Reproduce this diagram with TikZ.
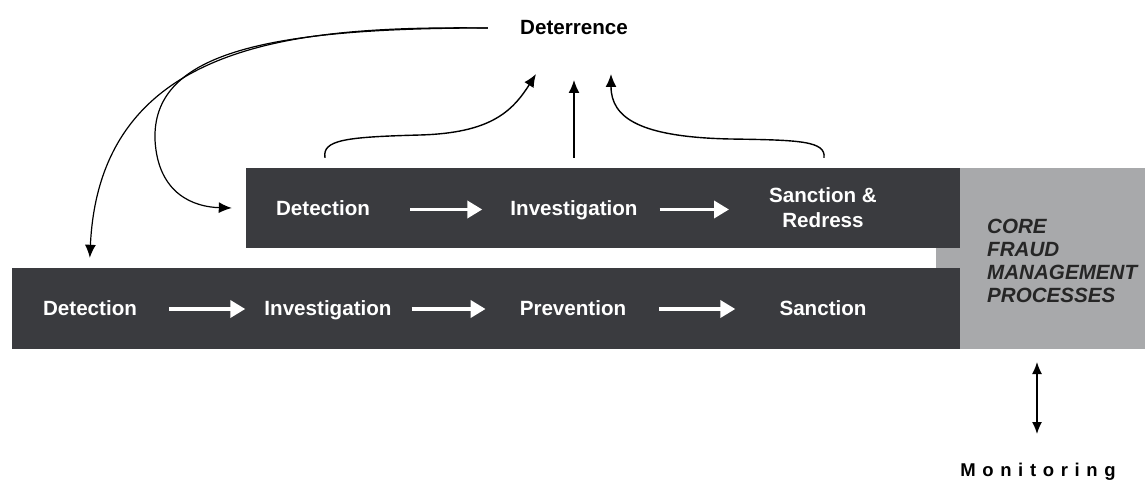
\documentclass[tikz,border=0pt]{standalone}
\usepackage{fontspec}
\setmainfont{Liberation Sans}
\newfontfamily\monfont[LetterSpace=36]{Liberation Sans}
\usetikzlibrary{arrows.meta}
\definecolor{boxdark}{HTML}{3A3B3F}
\definecolor{coregray}{HTML}{A8A9AB}
\begin{document}
\begin{tikzpicture}[x=1pt,y=-1pt,
  lbl/.style={font=\fontsize{20.6}{25}\selectfont\bfseries, text=white, inner sep=0pt, align=center},
  wa/.style={white, line width=3.6pt, -{Triangle[length=15pt,width=17pt]}},
  ka/.style={black, line width=1.4pt, -{Latex[length=13pt,width=11pt]}},
  darkbox/.style={fill=boxdark, draw=none, inner sep=0pt},
  graybox/.style={fill=coregray, draw=none, inner sep=0pt}]
\useasboundingbox[fill=white] (0,0) rectangle (1145,481);

% core gray area
\node[graybox, minimum width=185pt, minimum height=181pt] (core) at (1052.5,258.5) {};
\fill[coregray] (936,248) rectangle (961,269);

% boxes
\node[darkbox, minimum width=714pt, minimum height=80pt] (upper) at (603,208) {};
\node[darkbox, minimum width=948pt, minimum height=81pt] (lower) at (486,308.5) {};

% upper labels
\node[lbl, anchor=base] (u1) at (323,215.5) {Detection};
\node[lbl, anchor=base] (u2) at (574,215.5) {Investigation};
\node[lbl] (u3) at (823,207.5) {Sanction \&\\Redress};
% lower labels
\node[lbl, anchor=base] (l1) at (90,315) {Detection};
\node[lbl, anchor=base] (l2) at (328,315) {Investigation};
\node[lbl, anchor=base] (l3) at (573,315) {Prevention};
\node[lbl, anchor=base] (l4) at (823,315) {Sanction};

% white arrows
\draw[wa, shorten <=40pt, shorten >=28pt] ([yshift=6pt]u1.base east) -- ([yshift=6pt]u2.base west);
\draw[wa, shorten <=22pt, shorten >=40pt] ([yshift=6pt]u2.base east) -- ([yshift=6pt]u2.base east -| u3.west);
\draw[wa, shorten <=32pt, shorten >=19pt] ([yshift=6pt]l1.base east) -- ([yshift=6pt]l2.base west);
\draw[wa, shorten <=20pt, shorten >=34pt] ([yshift=6pt]l2.base east) -- ([yshift=6pt]l3.base west);
\draw[wa, shorten <=33pt, shorten >=44pt] ([yshift=6pt]l3.base east) -- ([yshift=6pt]l4.base west);

% core text
\node[anchor=west, align=left, inner sep=0pt,
      font=\fontsize{20.6}{23}\selectfont\bfseries\itshape, text=black!85] (coretext) at (987,261)
      {CORE\\FRAUD\\MANAGEMENT\\PROCESSES};

% deterrence
\node[font=\fontsize{20.6}{24}\selectfont\bfseries, inner sep=0pt] (det) at (574,28) {Deterrence};

% deterrence to processes
\draw[ka, line width=1.2pt] ([xshift=-32pt]det.west) .. controls (300,26) and (100,40) .. ([xshift=78pt,yshift=10pt]lower.north west);
\draw[ka, line width=1.2pt] ([xshift=-32pt]det.west) .. controls (260,28) and (152,55) .. (155,140)
      .. controls (158,195) and (195,207) .. ([xshift=-14pt]upper.west);

% processes to deterrence
\draw[ka] ([xshift=-278pt,yshift=10pt]upper.north) .. controls (322,140) and (345,137) .. (420,135)
      .. controls (490,133) and (512,112) .. (536,74);
\draw[ka] ([yshift=10pt]upper.north -| det.south) -- (574,80);
\draw[ka] ([xshift=221pt,yshift=10pt]upper.north) .. controls (826,141) and (800,140) .. (730,139)
      .. controls (640,137) and (611,118) .. (611,74);

% monitoring
\node[font=\fontsize{18.5}{20}\selectfont\bfseries\monfont, inner sep=0pt, anchor=base] (mon) at (1038,476) {Monitoring};
\coordinate (mtop) at (1037,362);
\coordinate (mbot) at (1037,434);
\draw[black, line width=1.4pt, {Latex[length=12pt,width=10pt]}-{Latex[length=12pt,width=10pt]}]
  (mtop) -- (mbot);
\end{tikzpicture}
\end{document}
